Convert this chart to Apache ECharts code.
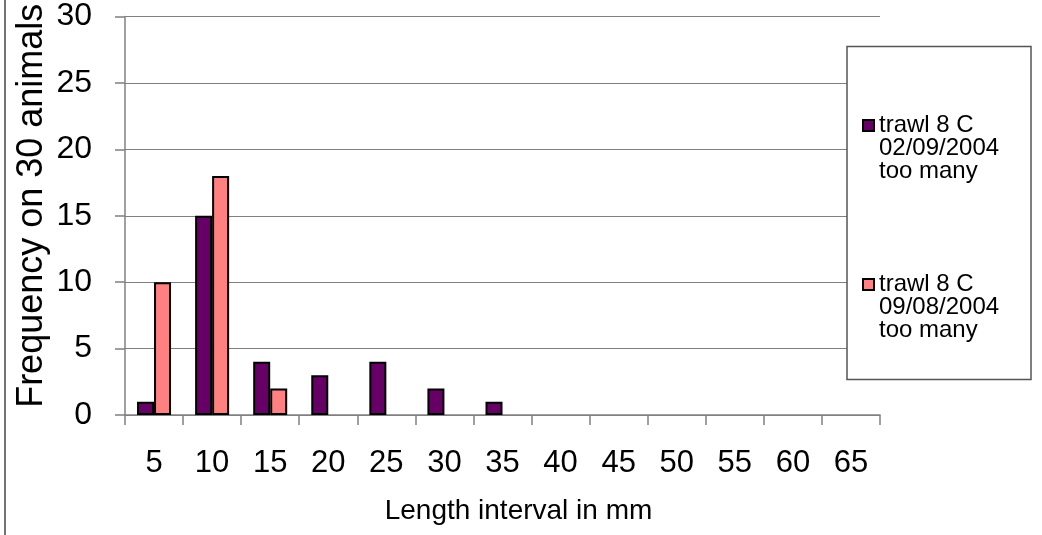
<!DOCTYPE html>
<html>
<head>
<meta charset="utf-8">
<style>
html,body{margin:0;padding:0;background:#fff;}
#chart{width:1042px;height:535px;}
</style>
<script src="https://cdn.jsdelivr.net/npm/echarts@6/dist/echarts.min.js"></script>
</head>
<body>
<div id="chart"></div>
<script>
const categories = ['5','10','15','20','25','30','35','40','45','50','55','60','65'];
const seriesNames = ['trawl 8 C\n02/09/2004\ntoo many', 'trawl 8 C\n09/08/2004\ntoo many'];
const trawl0209 = [1, 15, 4, 3, 4, 2, 1, 0, 0, 0, 0, 0, 0];
const trawl0908 = [10, 18, 2, 0, 0, 0, 0, 0, 0, 0, 0, 0, 0];
const yTicks = [0, 5, 10, 15, 20, 25, 30];

const FONT = 'Liberation Sans, Arial, sans-serif';
const noZero = arr => arr.map(v => v === 0 ? '-' : v);
const LH = 23;

const chart = echarts.init(document.getElementById('chart'), null, {renderer: 'canvas'});
chart.setOption({
  backgroundColor: '#ffffff',
  animation: false,
  textStyle: {fontFamily: FONT, color: '#000'},
  grid: {left: 125, top: 16.5, right: 162, bottom: 120, containLabel: false},
  xAxis: {
    type: 'category',
    data: categories,
    boundaryGap: true,
    name: 'Length interval in mm',
    nameLocation: 'middle',
    nameGap: 82,
    nameTextStyle: {fontSize: 28, fontFamily: FONT, color: '#000', padding: [0, 0, 0, 32]},
    axisLine: {lineStyle: {color: '#808080', width: 1.5}},
    axisTick: {show: true, length: 10, alignWithLabel: false, lineStyle: {color: '#808080', width: 1.5}},
    axisLabel: {fontSize: 31, fontFamily: FONT, color: '#000', margin: 33, interval: 0}
  },
  yAxis: {
    type: 'value',
    min: yTicks[0],
    max: yTicks[yTicks.length - 1],
    interval: 5,
    name: 'Frequency on 30 animals',
    nameLocation: 'middle',
    nameRotate: 90,
    nameGap: 75,
    nameMoveOverlap: false,
    nameTextStyle: {fontSize: 36, fontFamily: FONT, color: '#000', padding: [0, 0, 0, 20]},
    axisLine: {show: true, lineStyle: {color: '#808080', width: 1.5}},
    axisTick: {show: true, length: 10, lineStyle: {color: '#808080', width: 1.5}},
    axisLabel: {fontSize: 32, fontFamily: FONT, color: '#000', margin: 33},
    splitLine: {show: true, lineStyle: {color: '#808080', width: 1.2}}
  },
  legend: {
    orient: 'vertical',
    left: 862,
    top: 125 - 2.5 * LH,
    padding: 0,
    itemGap: 158 - 5 * LH,
    itemWidth: 11,
    itemHeight: 11,
    z: 20,
    selectedMode: false,
    icon: 'rect',
    formatter: name => '\n\n' + name,
    textStyle: {fontSize: 24, fontFamily: FONT, color: '#000', lineHeight: LH},
    data: seriesNames
  },
  series: [
    {
      name: seriesNames[0],
      type: 'bar',
      data: noZero(trawl0209),
      barWidth: 17,
      barGap: '0%',
      itemStyle: {color: '#660066', borderColor: '#000', borderWidth: 2}
    },
    {
      name: seriesNames[1],
      type: 'bar',
      data: noZero(trawl0908),
      barWidth: 17,
      barGap: '0%',
      itemStyle: {color: '#FF8080', borderColor: '#000', borderWidth: 2}
    }
  ],
  graphic: [
    {type: 'rect', z: 10, shape: {x: 847, y: 46.5, width: 184, height: 333},
     style: {fill: '#fff', stroke: '#555', lineWidth: 1.5}},
    {type: 'line', z: 10, shape: {x1: 5, y1: 0, x2: 5, y2: 535},
     style: {stroke: '#444', lineWidth: 1.5}}
  ]
});
</script>
</body>
</html>
